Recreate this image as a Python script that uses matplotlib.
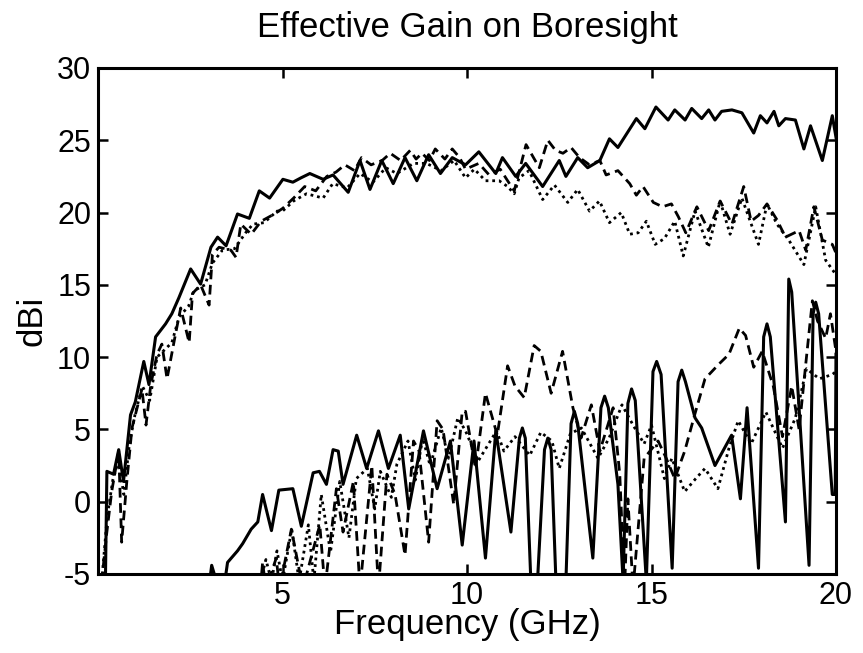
import matplotlib
matplotlib.use("Agg")
import matplotlib.pyplot as plt

plt.rcParams['font.family'] = ['Liberation Sans', 'DejaVu Sans']
plt.rcParams['axes.unicode_minus'] = False

# upper curves (co-pol)
co_solid_f = [0.1, 0.2, 0.24, 0.42, 0.56, 0.69, 0.88, 1.01, 1.24, 1.38, 1.56, 1.83, 2.0, 2.19, 2.51,
              2.78, 3.06, 3.24, 3.47, 3.78, 4.1, 4.37, 4.65, 5.01, 5.28, 5.5, 5.74, 6.1, 6.37, 6.78,
              7.1, 7.37, 7.69, 8.0, 8.32, 8.64, 8.96, 9.28, 9.6, 9.96, 10.32, 10.78, 10.96, 11.32,
              11.59, 12.05, 12.5, 12.68, 13.0, 13.27, 13.6, 13.86, 14.09, 14.59, 14.82, 15.12,
              15.45, 15.63, 15.91, 16.09, 16.36, 16.55, 16.72, 16.9, 17.18, 17.45, 17.77, 17.95,
              18.13, 18.32, 18.45, 18.63, 18.9, 19.13, 19.31, 19.63, 19.9, 20.0]
co_solid = [-5.5, -5.5, 2.1, 1.9, 3.6, 1.4, 6.0, 6.9, 9.7, 8.1, 11.4, 12.3, 13.0, 14.1, 16.1,
            15.05, 17.6, 18.3, 17.7, 19.9, 19.6, 21.5, 21.0, 22.3, 22.1, 22.4, 22.7, 22.3, 22.6, 21.4,
            23.6, 21.6, 23.6, 22.0, 23.8, 22.2, 24.0, 22.7, 23.8, 23.3, 24.2, 22.7, 23.8, 22.5,
            23.4, 21.8, 23.6, 22.5, 23.8, 23.1, 23.6, 25.1, 24.5, 26.5, 25.8, 27.3,
            26.4, 27.1, 26.4, 27.2, 26.5, 27.1, 26.4, 27.0, 27.1, 26.9, 25.5, 26.7,
            26.2, 27.0, 26.0, 26.5, 26.4, 24.4, 26.0, 23.6, 26.7, 25.2]

co_dash_f = [0.1, 0.23, 0.37, 0.56, 0.64, 0.78, 0.92, 1.19, 1.3, 1.43, 1.6, 1.73, 1.87, 2.1, 2.24,
             2.47, 2.56, 2.78, 3.01, 3.1, 3.28, 3.6, 3.74, 3.87, 4.15, 4.42, 4.78, 5.01, 5.3, 5.6,
             5.9, 6.2, 6.45, 6.69, 6.95, 7.14, 7.4, 7.7, 7.92, 8.2, 8.46, 8.62, 8.78, 8.98, 9.14,
             9.4, 9.6, 9.8, 9.96, 10.32, 10.6, 10.9, 11.1, 11.28, 11.6, 11.96, 12.19, 12.4, 12.6,
             12.82, 13.05, 13.32, 13.6, 13.77, 14.09, 14.41, 14.59, 14.77, 15.05, 15.3, 15.54,
             15.73, 15.93, 16.23, 16.55, 16.86, 17.18, 17.5, 17.7, 17.9, 18.13, 18.4, 18.63, 19.0,
             19.18, 19.4, 19.63, 19.9, 20.0]
co_dash = [-5.5, -2.3, 0.7, 3.5, -2.8, 1.4, 5.1, 7.8, 5.3, 8.1, 10.2, 10.9, 8.5, 11.6, 13.4,
           11.0, 14.4, 15.0, 13.6, 17.1, 17.6, 17.4, 16.9, 19.2, 18.5, 19.4, 19.9, 20.3, 21.0, 21.8,
           21.5, 22.5, 22.8, 23.3, 22.9, 23.8, 23.3, 23.6, 24.1, 23.6, 24.3, 23.7, 24.1, 23.6, 24.4,
           23.7, 24.4, 23.8, 23.0, 23.4, 22.6, 23.0, 22.2, 21.5, 24.7, 23.1, 25.0, 24.3, 24.1,
           24.5, 23.8, 23.3, 23.6, 22.6, 22.9, 22.0, 21.2, 21.8, 20.7, 20.4, 20.6,
           19.7, 18.6, 20.4, 18.75, 20.8, 19.2, 21.8, 19.4, 19.8, 20.6, 19.5, 18.3, 18.75,
           17.4, 20.4, 18.1, 17.8, 17.2]

co_dot_f = [0.1, 0.25, 0.4, 0.55, 0.7, 0.85, 1.0, 1.2, 1.4, 1.6, 1.8, 2.0, 2.2, 2.45, 2.6, 2.9,
            3.1, 3.37, 3.7, 4.0, 4.2, 4.5, 4.85, 5.0, 5.3, 5.65, 6.1, 6.36, 6.75, 7.1, 7.45, 7.8,
            8.1, 8.55, 8.9, 9.3, 9.65, 9.96, 10.2, 10.5, 10.87, 11.1, 11.28, 11.41, 11.68, 12.05,
            12.37, 12.73, 13.0, 13.32, 13.59, 13.86, 14.18, 14.41, 14.64, 14.86, 15.1, 15.35,
            15.63, 15.86, 16.18, 16.54, 16.86, 17.13, 17.45, 17.9, 18.13, 18.4, 18.72, 19.13,
            19.45, 19.72, 20.0]
co_dot = [-5.5, -1.0, 1.5, 2.8, 0.5, 4.0, 6.0, 8.0, 7.0, 10.0, 10.5, 11.0, 12.8, 13.5, 14.6, 15.0,
          16.5, 17.4, 17.5, 18.6, 19.2, 19.3, 20.1, 20.1, 20.8, 21.3, 21.0, 22.0, 21.7, 22.7, 22.1, 23.1,
          22.7, 23.4, 23.4, 22.9, 23.6, 22.4, 23.0, 22.2, 22.2, 21.8, 21.3, 22.4, 22.9, 20.9,
          21.9, 20.7, 21.6, 20.1, 20.8, 19.3, 20.0, 18.5, 18.6, 19.4, 17.8, 18.2,
          19.4, 17.0, 20.1, 17.6, 20.8, 18.5, 21.0, 17.8, 20.6, 19.2, 18.1, 16.4,
          20.4, 16.7, 15.7]

# lower curves (cross-pol)
x_solid_f = [2.95, 3.05, 3.08, 3.15, 3.2, 3.46, 3.51, 3.78, 3.92, 4.15, 4.33, 4.46, 4.7, 4.9,
             5.28, 5.51, 5.83, 6.0, 6.19, 6.37, 6.51, 6.64, 7.01, 7.28, 7.6, 7.87, 8.19, 8.42,
             8.82, 9.19, 9.55, 9.87, 10.19, 10.5, 10.78, 11.19, 11.42, 11.5, 11.58, 11.73, 11.82,
             11.91, 12.1, 12.19, 12.28, 12.41, 12.55, 12.68, 12.82, 12.91, 13.0, 13.41, 13.63,
             13.73, 13.83, 14.09, 14.23, 14.36, 14.46, 14.56, 14.86, 15.04, 15.14, 15.26, 15.56,
             15.72, 15.82, 15.92, 16.18, 16.36, 16.72, 17.17, 17.41, 17.59, 17.9, 18.04, 18.13,
             18.22, 18.63, 18.72, 18.8, 19.27, 19.38, 19.45, 19.53, 19.9, 19.98, 20.0]
x_solid = [-6.0, -5.0, -4.4, -5.0, -6.0, -5.1, -4.2, -3.4, -2.9, -1.9, -1.4, 0.5, -2.0, 0.8,
           0.9, -1.7, 2.0, 2.1, 1.2, 3.6, 3.5, 1.2, 4.6, 2.3, 4.9, 2.3, 4.6, -0.5,
           4.9, 0.9, 4.2, -3.0, 4.2, -3.9, 4.9, -2.1, 4.4, 5.1, 4.4, -5.5, -8.0,
           -5.5, 3.6, 4.4, 3.6, -5.5, -8.0, -5.5, 5.4, 6.25, 5.4, -3.9, 6.5,
           7.3, 6.5, 1.2, -5.5, 6.8, 7.8, 7.0, -5.5, 9.0, 9.7, 8.8, -4.6,
           8.3, 9.1, 8.3, 5.8, 5.1, 2.5, 4.6, 0.2, 6.5, -4.6, 11.4, 12.3,
           11.4, -1.4, 15.4, 14.5, -4.4, 13.0, 13.8, 13.0, 0.5, 0.5, 10.2]

x_dash_f = [4.4, 4.46, 4.55, 4.83, 4.92, 5.24, 5.55, 6.01, 6.15, 6.46, 6.64, 6.92, 7.1, 7.42,
            7.6, 7.83, 8.05, 8.32, 8.55, 8.7, 8.96, 9.19, 9.35, 9.64, 9.87, 9.96, 10.23, 10.5,
            10.82, 11.1, 11.3, 11.55, 11.82, 12.0, 12.28, 12.59, 12.87, 13.09, 13.37, 13.6, 13.96,
            14.14, 14.27, 14.36, 14.5, 14.8, 15.18, 15.4, 15.63, 15.9, 16.18, 16.45, 16.82, 17.1,
            17.38, 17.55, 17.77, 18.0, 18.3, 18.55, 18.8, 19.0, 19.2, 19.36, 19.5, 19.72, 19.85,
            20.0]
x_dash = [-6.0, -4.2, -6.0, -3.9, -6.0, -1.9, -6.0, -1.6, -6.0, 0.9, -2.1, 1.4, -6.0, 2.5,
          -6.0, 1.9, 0.5, -3.7, 4.2, 3.5, -2.8, 5.6, 5.0, -0.2, 6.25, 6.25, 2.3, 7.5,
          4.6, 9.4, 8.0, 7.2, 10.8, 10.4, 7.5, 10.4, 6.5, 4.4, 6.7, 3.5, 6.5,
          1.9, -6.0, 0.2, -6.0, 3.0, 4.2, 3.0, 1.6, 3.5, 6.1, 8.5, 9.5, 10.2,
          12.0, 11.5, 9.3, 10.4, 8.0, 4.5, 8.0, 5.0, 10.0, 13.9, 12.5, 11.3, 13.0,
          10.4]

x_dot_f = [4.4, 4.55, 4.7, 4.85, 5.0, 5.25, 5.45, 5.7, 5.85, 6.05, 6.3, 6.55, 6.8, 7.0, 7.3,
           7.5, 7.65, 7.95, 8.1, 8.4, 8.6, 8.8, 9.0, 9.3, 9.5, 9.75, 9.96, 10.3, 10.8, 11.0,
           11.3, 11.7, 12.0, 12.3, 12.5, 12.8, 13.1, 13.55, 13.85, 14.2, 14.5, 14.8, 15.0,
           15.35, 15.55, 15.9, 16.2, 16.45, 16.8, 17.1, 17.35, 17.7, 18.1, 18.55, 18.9, 19.2,
           19.55, 19.9, 20.0]
x_dot = [-5.5, -4.0, -5.5, -3.4, -5.5, -1.9, -5.5, -1.6, -5.5, 0.5, -3.5, 1.4, -2.5, 1.6, 2.3,
         -0.5, 2.1, 0.3, 2.6, 4.2, 1.5, 4.4, 2.5, 5.1, 3.0, 5.8, 4.9, 2.8, 4.9, 3.5,
         4.5, 3.2, 4.8, 4.2, 2.3, 4.7, 5.1, 3.0, 4.4, 6.7, 5.3, 4.0, 5.3,
         1.6, 3.0, 0.7, 1.6, 2.3, 0.9, 3.7, 5.6, 4.0, 6.2, 3.7, 5.8, 9.2,
         8.5, 8.8, 9.0]

fig = plt.figure(figsize=(8.63, 6.53), dpi=100)
ax = fig.add_axes([0.1136, 0.121, 0.8551, 0.7749])

dash = (0, (3.5, 2))
dot = (0, (1, 1.4))
ax.plot(co_solid_f, co_solid, color='black', lw=2.2, ls='-')
ax.plot(co_dash_f, co_dash, color='black', lw=2.0, ls=dash)
ax.plot(co_dot_f, co_dot, color='black', lw=2.0, ls=dot)
ax.plot(x_solid_f, x_solid, color='black', lw=2.2, ls='-')
ax.plot(x_dash_f, x_dash, color='black', lw=2.0, ls=dash)
ax.plot(x_dot_f, x_dot, color='black', lw=2.0, ls=dot)

ax.set_xlim(0, 20)
ax.set_ylim(-5, 30)
ax.set_xticks([5, 10, 15, 20])
ax.set_yticks([-5, 0, 5, 10, 15, 20, 25, 30])
ax.tick_params(direction='in', top=True, right=True, length=7, width=1.8,
               labelsize=22, pad=5)
for s in ax.spines.values():
    s.set_linewidth(2.2)

ax.set_title('Effective Gain on Boresight', fontsize=25, pad=22)
ax.set_xlabel('Frequency (GHz)', fontsize=25, labelpad=-2)
ax.set_ylabel('dBi', fontsize=25, labelpad=6)

fig.savefig('out.png', dpi=100)
